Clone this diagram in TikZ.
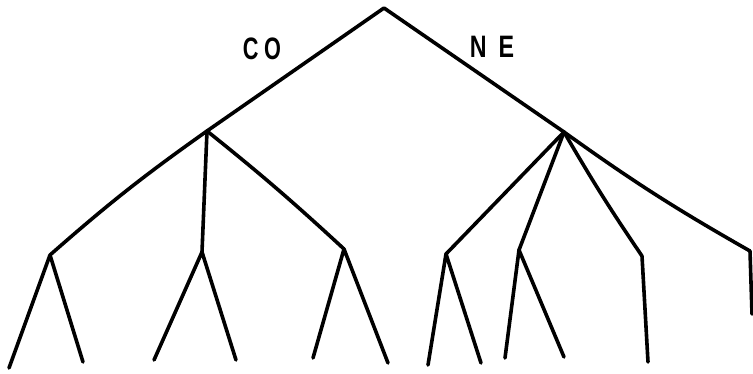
\documentclass[tikz,border=0pt]{standalone}
\usepackage{fontspec}
\setmainfont{Liberation Sans}
\begin{document}
\begin{tikzpicture}[x=1pt,y=-1pt,
  branch/.style={line width=3.6pt,line cap=round,line join=round,black},
  lbl/.style={font=\fontsize{31}{31}\selectfont\bfseries,inner sep=0pt,anchor=center}]
\useasboundingbox (0,0) rectangle (753,373);
% internal nodes
\coordinate (root) at (384,8);
\coordinate (L) at (207,131);
\coordinate (R) at (564,132);
\coordinate (LL) at (50,255);
\coordinate (LM) at (202,252);
\coordinate (LR) at (344,249);
\coordinate (R1) at (446,254);
\coordinate (R2) at (519,250);
\coordinate (R3) at (642,256);
\coordinate (R4) at (750,251);
% leaves
\coordinate (a1) at (9,368);
\coordinate (a2) at (83,362);
\coordinate (b1) at (154,360);
\coordinate (b2) at (236,360);
\coordinate (c1) at (313,358);
\coordinate (c2) at (388,363);
\coordinate (d1) at (428,365);
\coordinate (d2) at (481,363);
\coordinate (e1) at (505,358);
\coordinate (e2) at (564,357);
\coordinate (f1) at (648,362);
\coordinate (g1) at (752,314);
% edges
\draw[branch] (L) -- (root) -- (R);
\draw[branch] (LL) to[bend left=3] (L);
\draw[branch] (L) -- (LM);
\draw[branch] (L) to[bend left=2] (LR);
\draw[branch] (R) -- (R1);
\draw[branch] (R) -- (R2);
\draw[branch] (R) to[bend right=2] (R3);
\draw[branch] (R) to[bend right=3] (R4);
\draw[branch] (a1) -- (LL) -- (a2);
\draw[branch] (b1) -- (LM) -- (b2);
\draw[branch] (c1) -- (LR) -- (c2);
\draw[branch] (d1) -- (R1) -- (d2);
\draw[branch] (e1) -- (R2) -- (e2);
\draw[branch] (R3) -- (f1);
\draw[branch] (R4) -- (g1);
% labels
\node[lbl] (co) at (262,49) {\scalebox{0.7}[1]{C\hspace{8pt}O}};
\node[lbl] (ne) at (492,47) {\scalebox{0.75}[1]{N\hspace{16pt}E}};
\end{tikzpicture}
\end{document}
